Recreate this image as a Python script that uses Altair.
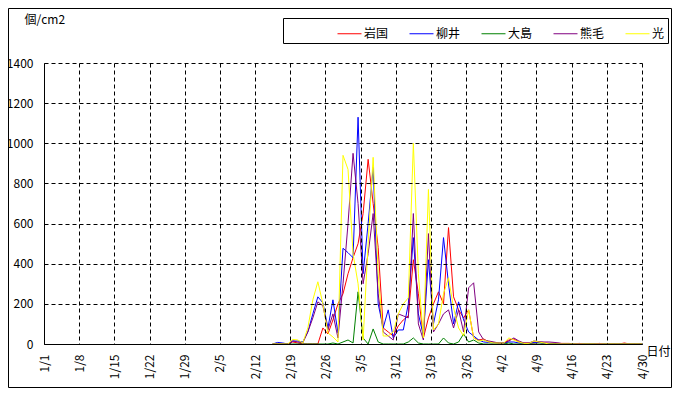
import altair as alt
import pandas as pd

FONT = "Noto Sans CJK JP"

series_names = ["岩国", "柳井", "大島", "熊毛", "光"]
series_colors = ["#FF0000", "#0000FF", "#008000", "#800080", "#FFFF00"]

tick_labels = ["1/1", "1/8", "1/15", "1/22", "1/29", "2/5", "2/12", "2/19", "2/26",
               "3/5", "3/12", "3/19", "3/26", "4/2", "4/9", "4/16", "4/23", "4/30"]

# daily values from 2/15 (day index 45) to 4/30 (day index 119)
start_day = 45

iwakuni = [0, 0, 0, 0,
           10, 5, 0, 0, 0, 0, 80, 50, 120, 200,
           250, 350, 430, 500, 650, 920, 700, 480, 80, 60,
           40, 90, 120, 140, 420, 250, 30, 130, 200, 260,
           200, 580, 235, 170, 130, 170, 30, 20, 25, 10,
           8, 5, 5, 20, 25, 10, 5, 5, 5, 8,
           5, 3, 3, 3, 3, 3, 0, 0, 0, 0,
           0, 0, 0, 0, 0, 0, 5, 0, 0, 0, 0]

yanai = [0, 8, 5, 0,
         15, 15, 10, 60, 150, 235, 205, 80, 220, 55,
         477, 455, 430, 1130, 350, 600, 880, 200, 80, 170,
         30, 70, 70, 200, 530, 150, 40, 420, 100, 220,
         530, 300, 100, 210, 120, 60, 40, 20, 10, 8,
         5, 5, 5, 10, 10, 5, 3, 3, 8, 8,
         3, 0, 0, 0, 0, 0, 0, 0, 0, 0,
         0, 0, 0, 0, 0, 0, 0, 0, 0, 0, 0]

oshima = [0, 0, 0, 0,
          0, 0, 0, 0, 0, 0, 0, 0, 5, 0,
          10, 20, 5, 260, 30, 0, 75, 10, 0, 0,
          0, 0, 0, 10, 30, 5, 0, 0, 0, 0,
          30, 5, 0, 10, 50, 10, 20, 5, 0, 0,
          0, 0, 0, 5, 0, 0, 0, 0, 0, 0,
          0, 0, 0, 0, 0, 0, 0, 0, 0, 0,
          0, 0, 0, 0, 0, 0, 0, 0, 0, 0, 0]

kumage = [0, 0, 0, 0,
          15, 10, 5, 60, 130, 210, 190, 70, 150, 30,
          300, 600, 950, 700, 300, 450, 650, 250, 60, 40,
          20, 150, 140, 130, 650, 100, 20, 550, 60, 100,
          150, 170, 80, 170, 60, 280, 305, 60, 20, 15,
          10, 5, 5, 15, 30, 15, 5, 5, 15, 12,
          10, 10, 8, 5, 0, 0, 0, 3, 0, 0,
          0, 3, 0, 0, 0, 0, 0, 0, 0, 0, 0]

hikari = [0, 0, 0, 0,
          23, 20, 5, 80, 220, 310, 200, 55, 35, 10,
          940, 870, 450, 300, 20, 500, 930, 350, 40, 40,
          60, 150, 200, 230, 1000, 350, 30, 770, 70, 100,
          250, 330, 180, 80, 40, 170, 30, 15, 20, 10,
          5, 5, 5, 30, 20, 10, 3, 3, 15, 10,
          5, 0, 0, 0, 0, 0, 0, 0, 0, 0,
          0, 0, 0, 0, 0, 0, 0, 0, 0, 0, 0]

all_series = [iwakuni, yanai, oshima, kumage, hikari]

rows = []
for name, vals in zip(series_names, all_series):
    for i, v in enumerate(vals):
        day = start_day + i
        rows.append({"day": day + 0.5, "value": v, "series": name})
df = pd.DataFrame(rows)

label_expr = "[" + ",".join(f"'{t}'" for t in tick_labels) + "][round(datum.value / 7)]"

x_enc = alt.X(
    "day:Q",
    scale=alt.Scale(domain=[0, 119], nice=False, zero=False),
    axis=alt.Axis(
        values=list(range(0, 120, 7)),
        labelExpr=label_expr,
        labelAngle=270,
        labelPadding=10,
        grid=True, gridDash=[4, 3], gridColor="black", gridOpacity=1,
        domainColor="black", ticks=False,
        title="日付", titleAngle=0, titleAlign="left", titleBaseline="middle",
        titleX=602, titleY=7, zindex=1,
    ),
)
y_enc = alt.Y(
    "value:Q",
    scale=alt.Scale(domain=[0, 1400], nice=False),
    axis=alt.Axis(
        values=list(range(0, 1401, 200)),
        format="d",
        labelPadding=11,
        grid=True, gridDash=[4, 3], gridColor="black", gridOpacity=1,
        domainColor="black", ticks=False,
        title="個/cm2", titleAngle=0, titleAlign="left", titleBaseline="middle",
        titleX=-20, titleY=-44, zindex=1,
    ),
)
color_enc = alt.Color(
    "series:N",
    scale=alt.Scale(domain=series_names, range=series_colors),
    legend=alt.Legend(
        orient="none", legendX=239, legendY=-45, direction="horizontal",
        title=" ", titleOrient="left", titlePadding=51,
        symbolType="stroke", symbolSize=576, symbolStrokeWidth=1,
        labelOffset=2, columnPadding=18, padding=3,
        strokeColor="black", fillColor="white",
    ),
)

layers = []
for name in series_names:
    layers.append(
        alt.Chart(df)
        .transform_filter(alt.datum.series == name)
        .mark_line(strokeWidth=1, clip=True)
        .encode(x=x_enc, y=y_enc, color=color_enc)
    )

frame = alt.Chart(pd.DataFrame({"a": [0]})).mark_rect(
    fill=None, stroke="black", strokeWidth=1
).encode(
    x=alt.value(-35.5), x2=alt.value(627.5), y=alt.value(-54.5), y2=alt.value(324.5)
)

chart = alt.layer(*layers, frame).properties(
    width=598, height=281,
    padding={"left": 36, "top": 55, "right": 30, "bottom": 44},
    autosize=alt.AutoSizeParams(type="none"),
).configure_view(stroke=None).configure_axis(
    labelFont=FONT, titleFont=FONT, labelFontSize=12, titleFontSize=12,
    labelColor="black", titleColor="black", titleFontWeight="normal",
).configure_legend(
    labelFont=FONT, labelFontSize=12, labelColor="black", titleFont=FONT,
)

chart.save("out.html", embed_options={"renderer": "svg", "actions": False})
